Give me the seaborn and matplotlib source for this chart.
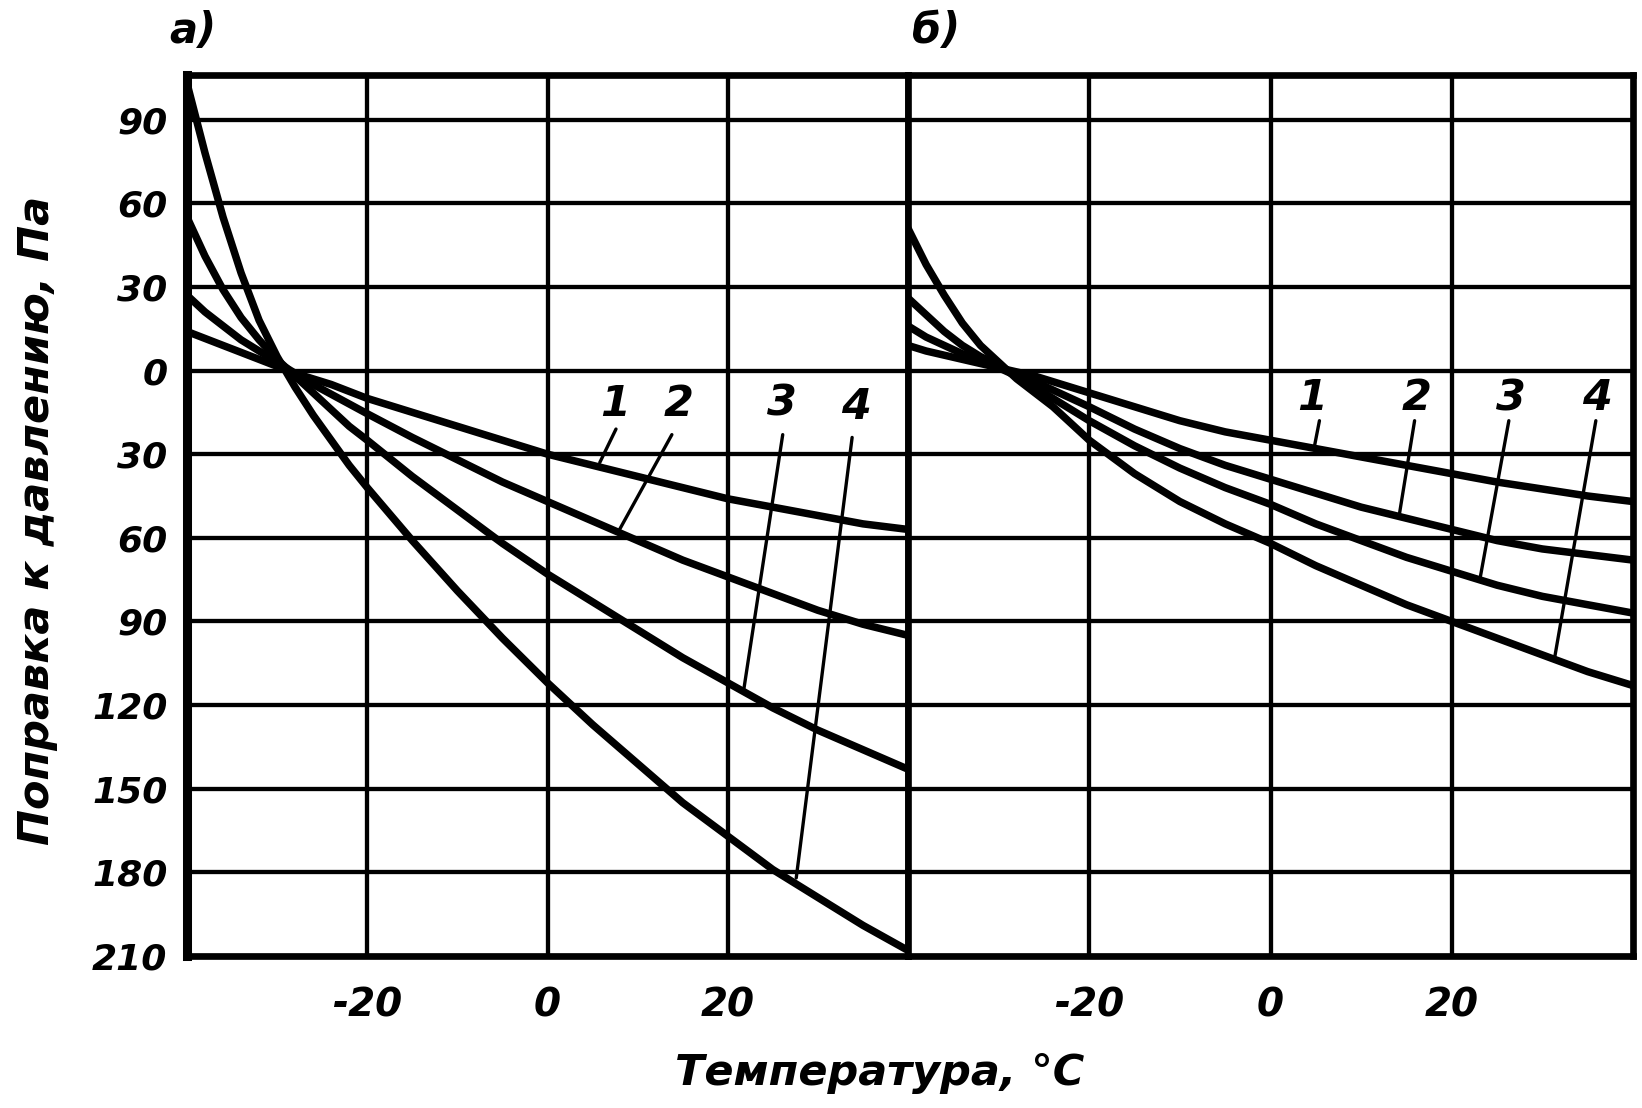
import numpy as np
import pandas as pd
import matplotlib
matplotlib.use("Agg")
import matplotlib.pyplot as plt
import seaborn as sns
from matplotlib import font_manager

# temperature grid, deg C (read points, same for every curve)
temps = [-40, -38, -36, -34, -32, -30, -28, -26, -24, -22, -20,
         -15, -10, -5, 0, 5, 10, 15, 20, 25, 30, 35, 40]

# panel a) - pressure correction, Pa
a_curve1 = [14, 11.5, 9, 6.5, 4, 1.5, -1, -3, -5, -7.5, -10, -15, -20, -25, -30, -34, -38, -42, -46, -49, -52, -55, -57]
a_curve2 = [27, 21, 16, 11, 7, 3, -1, -5, -8.5, -12, -15.5, -24, -32, -40, -47, -54, -61, -68, -74, -80, -86, -91, -95]
a_curve3 = [55, 41, 29, 19, 11, 4, -2, -8, -14, -20, -25, -38, -50, -62, -73, -83, -93, -103, -112, -121, -129, -136, -143]
a_curve4 = [103, 78, 55, 35, 18, 5, -6, -16, -25, -34, -42, -61, -79, -96, -112, -127, -141, -155, -167, -179, -189, -199, -208]

# panel б)
b_curve1 = [9, 7, 5.5, 4, 2.5, 1, -0.5, -2, -4, -6, -8, -13, -18, -22, -25, -28, -31, -34, -37, -40, -42.5, -45, -47]
b_curve2 = [16, 12, 9, 6, 4, 1, -2, -4, -7, -10, -13, -21, -28, -34, -39, -44, -49, -53, -57, -61, -64, -66, -68]
b_curve3 = [26, 20, 14, 9, 5, 2, -2, -6, -10, -14, -18, -27, -35, -42, -48, -55, -61, -67, -72, -77, -81, -84, -87]
b_curve4 = [51, 38, 27, 17, 9, 3, -3, -8, -13, -19, -25, -37, -47, -55, -62, -70, -77, -84, -90, -96, -102, -108, -113]

curve_names = ["1", "2", "3", "4"]
y_ticks = [90, 60, 30, 0, -30, -60, -90, -120, -150, -180, -210]
x_ticks = [-20, 0, 20]

# curve label positions (T, dp) and leader lines (T0, dp0, T1, dp1)
a_label_pos = [(7.5, -12), (14.5, -12), (26.0, -12), (34.2, -13)]
a_leaders = [(7.6, -21, 5.8, -33), (13.8, -23, 8.0, -57), (26.1, -23, 21.8, -114), (33.8, -24, 27.6, -182)]
b_label_pos = [(4.6, -10), (16.1, -10), (26.5, -10), (36.0, -10)]
b_leaders = [(5.4, -18, 4.8, -28), (15.9, -18, 14.2, -52), (26.3, -18, 23.1, -75), (35.9, -18, 31.3, -104)]

sns.set_theme(style="white")
plt.rcParams["lines.solid_joinstyle"] = "round"
plt.rcParams["lines.solid_capstyle"] = "round"
plt.rcParams["text.color"] = "black"
plt.rcParams["xtick.color"] = "black"
plt.rcParams["ytick.color"] = "black"
plt.rcParams["xtick.labelcolor"] = "black"
plt.rcParams["ytick.labelcolor"] = "black"

names = {f.name for f in font_manager.fontManager.ttflist}
narrow = "Liberation Sans Narrow" if "Liberation Sans Narrow" in names else "DejaVu Sans"
plt.rcParams["font.family"] = [narrow, "DejaVu Sans"]


def long_frame(curves):
    parts = []
    for name, vals in zip(curve_names, curves):
        parts.append(pd.DataFrame({"t": temps, "dp": vals, "curve": name}))
    return pd.concat(parts, ignore_index=True)


df_a = long_frame([a_curve1, a_curve2, a_curve3, a_curve4])
df_b = long_frame([b_curve1, b_curve2, b_curve3, b_curve4])

W, H = 1642, 1108
fig = plt.figure(figsize=(W / 100, H / 100), dpi=100)
top, bottom = 75, 956
ax_a = fig.add_axes([187 / W, 1 - bottom / H, (908 - 187) / W, (bottom - top) / H])
ax_b = fig.add_axes([908 / W, 1 - bottom / H, (1633 - 908) / W, (bottom - top) / H])

for ax, df, lab_pos, leaders in [(ax_a, df_a, a_label_pos, a_leaders),
                                  (ax_b, df_b, b_label_pos, b_leaders)]:
    sns.lineplot(data=df, x="t", y="dp", hue="curve", palette=["black"] * 4,
                 estimator=None, sort=False, legend=False, lw=5.4, ax=ax, zorder=3)
    ax.set_xlim(-40, 40)
    ax.set_ylim(-210, 106)
    ax.set_xticks(x_ticks)
    ax.set_yticks(y_ticks)
    ax.grid(True, color="black", lw=3.1)
    ax.set_axisbelow(True)
    ax.set_xlabel("")
    ax.set_ylabel("")
    ax.tick_params(length=0, pad=22)
    ax.set_xticklabels([str(v) for v in x_ticks], fontsize=28, style="italic",
                       fontweight="bold")
    for s in ax.spines.values():
        s.set_color("black")
        s.set_linewidth(4.8)
    for name, (tx, ty) in zip(curve_names, lab_pos):
        ax.text(tx, ty, name, fontsize=31, style="italic", fontweight="bold",
                ha="center", va="center", zorder=4, color="black")
    for x0, y0, x1, y1 in leaders:
        ax.plot([x0, x1], [y0, y1], color="black", lw=2.4, zorder=4)

ax_a.spines["left"].set_linewidth(6.5)
ax_a.set_yticklabels([str(abs(v)) for v in y_ticks], fontsize=26,
                     style="italic", fontweight="bold")
ax_a.tick_params(axis="y", pad=14)
ax_b.set_yticklabels([])

fig.text(193 / W, 1 - 31 / H, "а)", fontsize=30, style="italic", fontweight="bold",
         ha="center", va="center", color="black")
fig.text(936 / W, 1 - 31 / H, "б)", fontsize=30, style="italic", fontweight="bold",
         ha="center", va="center", color="black")
fig.text(37 / W, 1 - 520 / H, "Поправка к давлению, Па", fontsize=31, style="italic",
         fontweight="bold", rotation=90, ha="center", va="center", color="black")
fig.text(880 / W, 1 - 1073 / H, "Температура, °C", fontsize=31, style="italic",
         fontweight="bold", ha="center", va="center", color="black")

fig.savefig("out.png", dpi=100, facecolor="white")
